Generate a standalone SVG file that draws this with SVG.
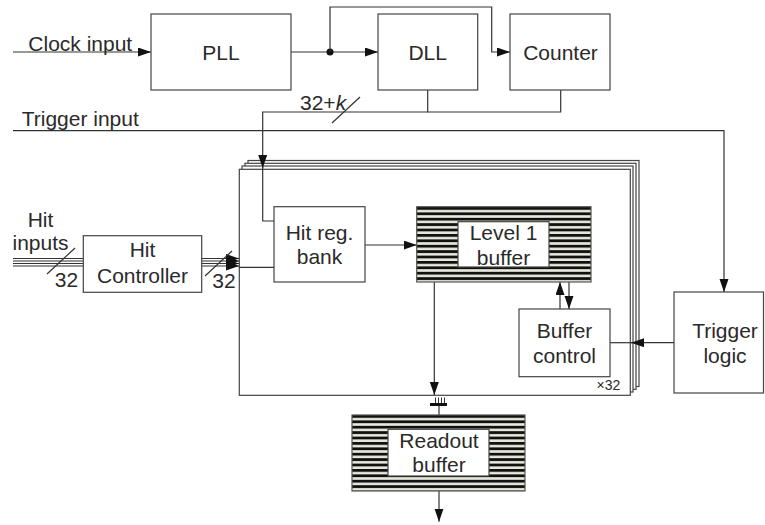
<svg xmlns="http://www.w3.org/2000/svg" width="765" height="525" viewBox="0 0 765 525">
<defs>
<marker id="ah" markerUnits="userSpaceOnUse" markerWidth="14" markerHeight="10" refX="13" refY="4.5" orient="auto">
<path d="M0,0 L13,4.5 L0,9 z" fill="#111"/>
</marker>
<pattern id="hatch" patternUnits="userSpaceOnUse" width="10" height="5.4" y="207">
<rect width="10" height="5.4" fill="#e8e8dc"/>
<rect width="10" height="2.8" fill="#111"/>
</pattern>
<pattern id="hatch2" patternUnits="userSpaceOnUse" width="10" height="5.4" y="415">
<rect width="10" height="5.4" fill="#e8e8dc"/>
<rect width="10" height="2.8" fill="#111"/>
</pattern>
</defs>
<style>
text{font-family:"Liberation Sans",Arial,sans-serif;font-size:21px;fill:#2a2a2a}
.c{text-anchor:middle}
.box{fill:#fff;stroke:#444;stroke-width:1.2}
.ln{fill:none;stroke:#333;stroke-width:1.2}
.arr{fill:none;stroke:#333;stroke-width:1.2;marker-end:url(#ah)}
</style>

<g id="stack">
<rect class="box" x="248" y="160.5" width="391" height="226" stroke="#222"/>
<rect class="box" x="245" y="163.3" width="391" height="226" stroke="#222"/>
<rect class="box" x="242" y="166" width="391" height="226" stroke="#222"/>
<rect class="box" x="239.3" y="169.3" width="391" height="226" stroke="#222"/>
<text x="596.5" y="390" style="font-size:14px">×32</text>
</g>

<g id="connectors">
<line class="arr" x1="13" y1="52" x2="151" y2="52"/>
<line class="arr" x1="291" y1="52" x2="378" y2="52"/>
<circle cx="330" cy="52" r="3.5" fill="#111"/>
<polyline class="arr" points="330,52 330,7 491.7,7 491.7,52 510,52"/>
<polyline class="ln" points="427.7,90 427.7,112 560.7,112 560.7,90"/>
<polyline class="arr" points="427.7,112 262.7,112 262.7,168"/>
<polyline class="ln" points="262.7,166 262.7,221 274,221"/>
<line class="ln" x1="332" y1="123" x2="360" y2="97"/>
<polyline class="arr" points="13,130.7 724,130.7 724,292"/>
<line class="ln" x1="13" y1="258.5" x2="83.3" y2="258.5"/>
<line class="ln" x1="13" y1="261" x2="83.3" y2="261"/>
<line class="ln" x1="13" y1="263.5" x2="83.3" y2="263.5"/>
<line class="ln" x1="13" y1="266" x2="83.3" y2="266"/>
<line class="ln" x1="47" y1="274" x2="75" y2="248"/>
<line class="arr" x1="201.7" y1="258.5" x2="239" y2="258.5"/>
<line class="arr" x1="201.7" y1="261" x2="239" y2="261"/>
<line class="arr" x1="201.7" y1="263.5" x2="239" y2="263.5"/>
<line class="arr" x1="201.7" y1="266" x2="239" y2="266"/>
<line class="ln" x1="205" y1="276" x2="232" y2="251"/>
<line class="ln" x1="239" y1="267.3" x2="274" y2="267.3"/>
<polyline class="ln" points="274.5,263.5 280.5,267.3 274.5,271.2"/>
<line class="arr" x1="365" y1="245" x2="416.7" y2="245"/>
<line class="arr" x1="560" y1="309" x2="560" y2="282"/>
<line class="arr" x1="569" y1="282" x2="569" y2="309"/>
<line class="arr" x1="674" y1="342.7" x2="631" y2="342.7"/>
<line class="ln" x1="632" y1="342.7" x2="610" y2="342.7"/>
<line class="arr" x1="434.3" y1="282" x2="434.3" y2="395"/>
<g stroke="#333" stroke-width="1">
<line x1="435.5" y1="397.5" x2="435.5" y2="403"/>
<line x1="438.5" y1="397.5" x2="438.5" y2="403"/>
<line x1="441.5" y1="397.5" x2="441.5" y2="403"/>
<line x1="444.5" y1="397.5" x2="444.5" y2="403"/>
</g>
<line x1="430" y1="404.5" x2="447" y2="404.5" stroke="#111" stroke-width="3"/>
<line class="ln" x1="439" y1="406" x2="439" y2="415"/>
<line class="arr" x1="439" y1="491" x2="439" y2="521.7"/>
</g>

<g id="clock-label"><text x="28.3" y="50.5">Clock input</text></g>
<g id="trigger-label"><text x="21.7" y="126">Trigger input</text></g>
<g id="bus-label"><text x="300" y="110">32+<tspan font-style="italic">k</tspan></text></g>
<g id="hit-label"><text class="c" x="40.5" y="227">Hit</text><text class="c" x="40.5" y="250">inputs</text><text class="c" x="66.5" y="287">32</text></g>
<g id="hit-out-label"><text class="c" x="224" y="288">32</text></g>

<g id="pll"><rect class="box" x="151" y="14" width="140" height="76"/><text class="c" x="221" y="59.5">PLL</text></g>
<g id="dll"><rect class="box" x="378" y="14" width="99.7" height="76"/><text class="c" x="427.7" y="59.5">DLL</text></g>
<g id="counter"><rect class="box" x="510" y="14" width="100" height="76"/><text class="c" x="560.5" y="59.5">Counter</text></g>

<g id="hit-controller"><rect class="box" x="83.3" y="235.7" width="118.4" height="56.6"/><text class="c" x="142.5" y="256.7">Hit</text><text class="c" x="142.5" y="283">Controller</text></g>

<g id="hit-reg-bank"><rect class="box" x="274" y="206.7" width="91" height="75.3"/><text class="c" x="319.5" y="240">Hit reg.</text><text class="c" x="319.5" y="263.5">bank</text></g>

<g id="level1-buffer"><rect x="416.7" y="206.7" width="174.3" height="75.3" fill="url(#hatch)" stroke="#555" stroke-width="1.2"/><rect class="box" x="458" y="221.7" width="91" height="45.3"/><text class="c" x="503.5" y="240">Level 1</text><text class="c" x="503.5" y="264.5">buffer</text></g>

<g id="buffer-control"><rect class="box" x="519" y="309" width="91" height="67.7"/><text class="c" x="564.5" y="338.3">Buffer</text><text class="c" x="564.5" y="363.3">control</text></g>

<g id="trigger-logic"><rect class="box" x="674" y="292" width="89.5" height="101"/><text class="c" x="725" y="338">Trigger</text><text class="c" x="725" y="363">logic</text></g>

<g id="readout-buffer"><rect x="352" y="415" width="173" height="76" fill="url(#hatch2)" stroke="#555" stroke-width="1.2"/><rect class="box" x="388" y="429.3" width="101" height="46.7"/><text class="c" x="439" y="448.3">Readout</text><text class="c" x="439" y="472.3">buffer</text></g>
</svg>
